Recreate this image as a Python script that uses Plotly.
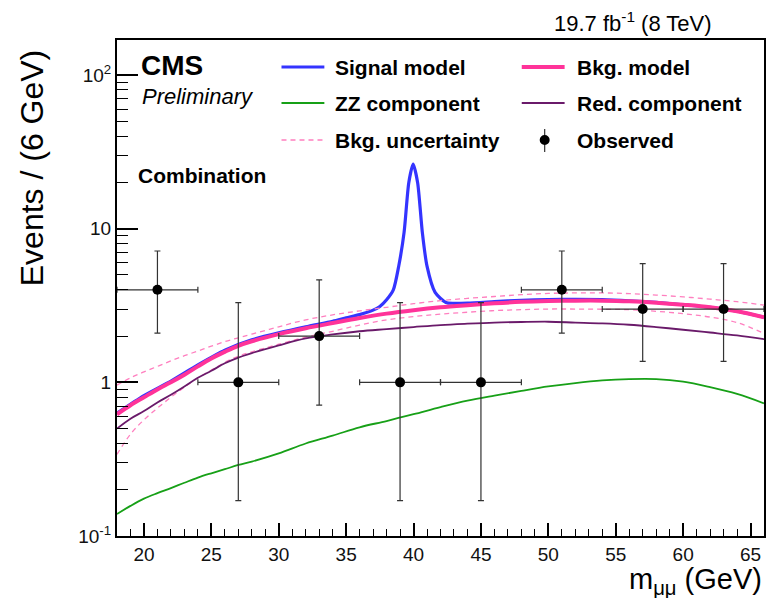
import plotly.graph_objects as go

W, H = 768, 598
ML, MR, MT, MB = 117, 2, 40, 62
PW = W - ML - MR
PH = H - MT - MB


def px(x):
    return (x - ML) / PW


def py(y):
    return (H - MB - y) / PH


# ---------------- data ----------------
bin_centres = [21, 27, 33, 39, 45, 51, 57, 63]
observed = [4, 1, 2, 1, 1, 4, 3, 3]
obs_hi = [7.16, 3.30, 4.64, 3.30, 3.30, 7.16, 5.92, 5.92]
obs_lo = [2.09, 0.17, 0.71, 0.17, 0.17, 2.09, 1.37, 1.37]
bin_half_width = [3, 3, 3, 3, 3, 3, 3, 3]

curve_x = [18, 19, 20, 21, 22, 23, 24, 25, 26, 27, 28, 30, 32, 34, 36, 38,
           40, 42, 44, 46, 48, 50, 52, 54, 56, 58, 60, 62, 64, 66]
bkg_model = [0.62, 0.71, 0.80, 0.90, 1.00, 1.12, 1.27, 1.43, 1.58, 1.73, 1.85,
             2.06, 2.25, 2.43, 2.62, 2.80, 2.95, 3.08, 3.18, 3.27, 3.34, 3.38,
             3.40, 3.40, 3.37, 3.30, 3.20, 3.08, 2.90, 2.65]
red_comp = [0.50, 0.58, 0.65, 0.74, 0.83, 0.94, 1.07, 1.19, 1.33, 1.45, 1.55,
            1.74, 1.93, 2.05, 2.15, 2.22, 2.29, 2.36, 2.41, 2.45, 2.47, 2.48,
            2.45, 2.42, 2.37, 2.29, 2.20, 2.11, 2.02, 1.91]
unc_up = [0.96, 1.07, 1.17, 1.27, 1.38, 1.49, 1.60, 1.72, 1.84, 1.95, 2.06,
          2.30, 2.55, 2.75, 2.92, 3.08, 3.25, 3.40, 3.52, 3.62, 3.72, 3.79,
          3.82, 3.82, 3.78, 3.70, 3.60, 3.48, 3.35, 3.18]
unc_dn = [0.34, 0.46, 0.57, 0.68, 0.80, 0.93, 1.07, 1.20, 1.35, 1.48, 1.58,
          1.77, 1.97, 2.15, 2.36, 2.55, 2.68, 2.78, 2.86, 2.93, 2.97, 3.00,
          3.00, 2.99, 2.97, 2.90, 2.80, 2.66, 2.45, 2.08]
zz_comp = [0.139, 0.157, 0.175, 0.19, 0.205, 0.222, 0.24, 0.256, 0.272, 0.29, 0.305,
           0.345, 0.40, 0.45, 0.51, 0.56, 0.62, 0.69, 0.76, 0.82, 0.88, 0.94,
           0.99, 1.03, 1.05, 1.05, 1.01, 0.93, 0.84, 0.73]

sig_x = [18, 20, 22, 24, 26, 28, 30, 32, 34, 35, 36, 37, 37.5, 38, 38.5, 38.9,
         39.3, 39.65, 39.97, 40.3, 40.65, 41.0, 41.6, 42.4, 43, 44, 46, 48, 50,
         52, 54, 56, 58, 60, 62, 64, 66]
sig_model = [0.63, 0.82, 1.02, 1.30, 1.62, 1.89, 2.10, 2.30, 2.50, 2.63, 2.76,
             2.95, 3.12, 3.45, 4.0, 5.7, 9.5, 20.0, 26.3, 20.0, 9.5, 5.7, 3.85,
             3.31, 3.27, 3.28, 3.35, 3.42, 3.46, 3.47, 3.45, 3.39, 3.31, 3.20,
             3.08, 2.90, 2.65]

y_tickvals = [0.1, 1, 10, 100]
y_ticktext = ["10<sup>-1</sup>", "1", "10", "10<sup>2</sup>"]
y_minor = [0.2, 0.3, 0.4, 0.5, 0.6, 0.7, 0.8, 0.9, 2, 3, 4, 5, 6, 7, 8, 9,
           20, 30, 40, 50, 60, 70, 80, 90]
x_tickvals = [20, 25, 30, 35, 40, 45, 50, 55, 60, 65]

BLUE = "#3434ff"
PINK = "#ff3399"
GREEN = "#17a017"
PURPLE = "#6a1a6a"
DPINK = "#ff7fbf"
FONT = "Liberation Sans, Arial, Helvetica, sans-serif"

fig = go.Figure()

fig.add_trace(go.Scatter(x=sig_x, y=sig_model, mode="lines", name="Signal model",
                         line=dict(color=BLUE, width=3.2, shape="spline", smoothing=0.7),
                         showlegend=False))
fig.add_trace(go.Scatter(x=curve_x, y=unc_up, mode="lines", name="Bkg. uncertainty",
                         line=dict(color=DPINK, width=1.3, dash="5px,4px", shape="spline"),
                         showlegend=False))
fig.add_trace(go.Scatter(x=curve_x, y=unc_dn, mode="lines", name="Bkg. uncertainty (down)",
                         line=dict(color=DPINK, width=1.3, dash="5px,4px", shape="spline"),
                         showlegend=False))
fig.add_trace(go.Scatter(x=curve_x, y=bkg_model, mode="lines", name="Bkg. model",
                         line=dict(color=PINK, width=4, shape="spline"),
                         showlegend=False))
fig.add_trace(go.Scatter(x=curve_x, y=red_comp, mode="lines", name="Red. component",
                         line=dict(color=PURPLE, width=1.8, shape="spline"),
                         showlegend=False))
fig.add_trace(go.Scatter(x=curve_x, y=zz_comp, mode="lines", name="ZZ component",
                         line=dict(color=GREEN, width=1.8, shape="spline"),
                         showlegend=False))
fig.add_trace(go.Scatter(
    x=bin_centres, y=observed, mode="markers", name="Observed",
    marker=dict(color="black", size=10),
    error_y=dict(type="data", symmetric=False,
                 array=[h - o for h, o in zip(obs_hi, observed)],
                 arrayminus=[o - l for o, l in zip(observed, obs_lo)],
                 color="#333333", thickness=1.2, width=3),
    error_x=dict(type="data", array=bin_half_width, color="#333333",
                 thickness=1.2, width=3),
    showlegend=False))

# ---------------- manual legend (two columns) ----------------
shapes = []
annotations = []
leg_rows = [67, 103, 140]
col_line = [(282, 325), (523, 566)]
col_text = [334, 576]
items = [
    (0, 0, "Signal model", dict(color=BLUE, width=3.2)),
    (0, 1, "Bkg. model", dict(color=PINK, width=4)),
    (1, 0, "ZZ component", dict(color=GREEN, width=1.8)),
    (1, 1, "Red. component", dict(color=PURPLE, width=1.8)),
    (2, 0, "Bkg. uncertainty", dict(color=DPINK, width=1.3, dash="5px,4px")),
]
for r, c, label, ln in items:
    y = leg_rows[r]
    x0, x1 = col_line[c]
    shapes.append(dict(type="line", xref="paper", yref="paper",
                       x0=px(x0), x1=px(x1), y0=py(y), y1=py(y), line=ln))
    annotations.append(dict(xref="paper", yref="paper", x=px(col_text[c]), y=py(y),
                            text=f"<b>{label}</b>", showarrow=False,
                            xanchor="left", yanchor="middle",
                            font=dict(family=FONT, size=21, color="black")))
# Observed legend entry
ox, oy = 546, leg_rows[2]
shapes.append(dict(type="line", xref="paper", yref="paper",
                   x0=px(ox), x1=px(ox), y0=py(oy - 11), y1=py(oy + 12),
                   line=dict(color="#333333", width=1.2)))
shapes.append(dict(type="circle", xref="paper", yref="paper",
                   x0=px(ox - 5), x1=px(ox + 5), y0=py(oy - 5), y1=py(oy + 5),
                   fillcolor="black", line=dict(color="black", width=0)))
annotations.append(dict(xref="paper", yref="paper", x=px(col_text[1]), y=py(oy),
                        text="<b>Observed</b>", showarrow=False,
                        xanchor="left", yanchor="middle",
                        font=dict(family=FONT, size=21, color="black")))

# ---------------- texts ----------------
annotations += [
    dict(xref="paper", yref="paper", x=px(139), y=py(66), text="<b>CMS</b>",
         showarrow=False, xanchor="left", yanchor="middle",
         font=dict(family=FONT, size=28, color="black")),
    dict(xref="paper", yref="paper", x=px(140), y=py(96), text="<i>Preliminary</i>",
         showarrow=False, xanchor="left", yanchor="middle",
         font=dict(family=FONT, size=22, color="black")),
    dict(xref="paper", yref="paper", x=px(136), y=py(175), text="<b>Combination</b>",
         showarrow=False, xanchor="left", yanchor="middle",
         font=dict(family=FONT, size=21, color="black")),
    dict(xref="paper", yref="paper", x=px(716), y=py(22),
         text="19.7 fb<sup>-1</sup> (8 TeV)",
         showarrow=False, xanchor="right", yanchor="middle",
         font=dict(family=FONT, size=22, color="black")),
    dict(xref="paper", yref="paper", x=px(32), y=py(168),
         text="Events / (6 GeV)", textangle=-90,
         showarrow=False, xanchor="center", yanchor="middle",
         font=dict(family=FONT, size=32, color="black")),
    dict(xref="paper", yref="paper", x=px(766), y=py(581),
         text="m<sub>μμ</sub> (GeV)",
         showarrow=False, xanchor="right", yanchor="middle",
         font=dict(family=FONT, size=29, color="black")),
]

fig.update_layout(
    width=W, height=H,
    margin=dict(l=ML, r=MR, t=MT, b=MB, pad=0),
    paper_bgcolor="white", plot_bgcolor="white",
    shapes=shapes, annotations=annotations,
    showlegend=False,
    font=dict(family=FONT, color="#111111"),
)
fig.update_xaxes(
    range=[18, 66], showgrid=False, zeroline=False,
    showline=True, linecolor="black", linewidth=2, mirror=True,
    ticks="inside", ticklen=13, tickwidth=1.5, tickcolor="black",
    tickmode="array", tickvals=x_tickvals,
    tickfont=dict(family=FONT, size=19, color="#111111"),
    minor=dict(ticks="inside", ticklen=7, tickwidth=1.2, tickcolor="black",
               dtick=1, showgrid=False),
)
fig.update_yaxes(
    type="log", range=[-1, 2.228], showgrid=False, zeroline=False,
    showline=True, linecolor="black", linewidth=2, mirror=True,
    ticks="inside", ticklen=21, tickwidth=1.5, tickcolor="black",
    tickmode="array", tickvals=y_tickvals, ticktext=y_ticktext,
    tickfont=dict(family=FONT, size=19, color="#111111"),
    minor=dict(ticks="inside", ticklen=11, tickwidth=1.2, tickcolor="black",
               tickmode="array", tickvals=y_minor, showgrid=False),
)

fig.write_html("out.html")
